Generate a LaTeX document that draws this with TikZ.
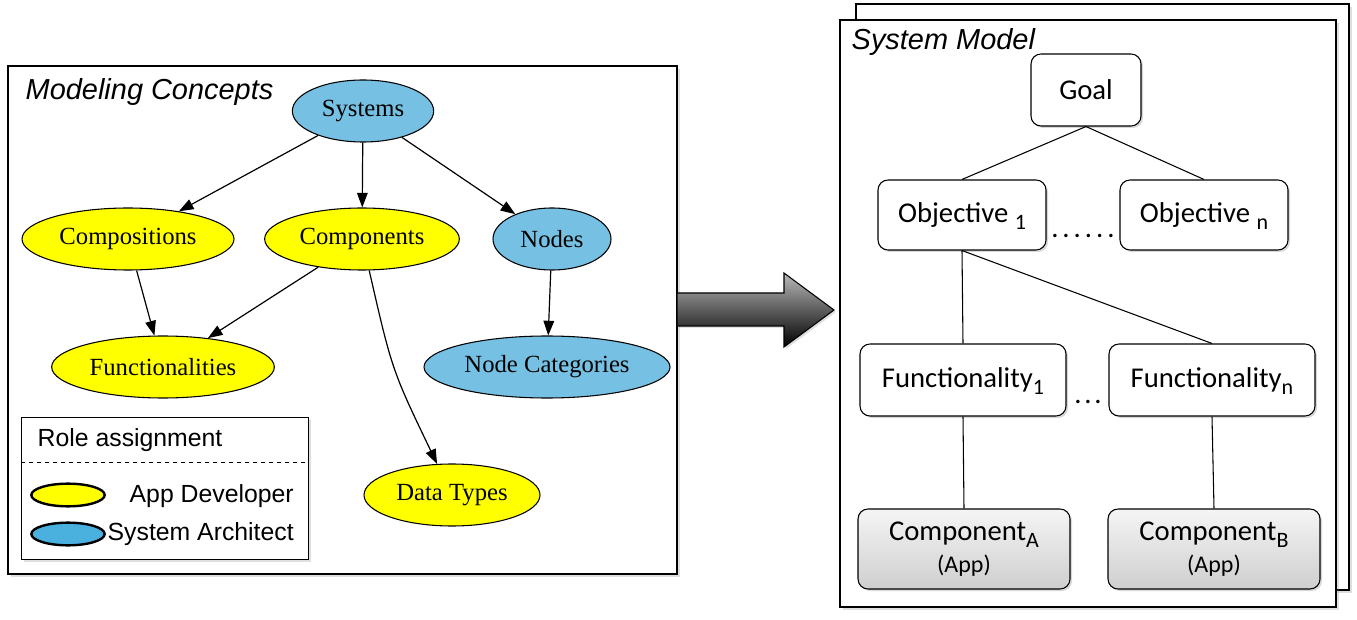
\documentclass[tikz,border=0pt]{standalone}
\usepackage{fontspec}
\setmainfont{Liberation Serif}
\newfontfamily\arialfont{Liberation Sans}
\newfontfamily\calfont{Carlito}
\usetikzlibrary{arrows.meta, shapes.geometric, shadows}
\definecolor{conceptblue}{RGB}{118,193,227}
\definecolor{archblue}{RGB}{74,176,222}
\definecolor{devyellow}{RGB}{255,255,0}
\def\gvsize{\fontsize{18.5}{21}\selectfont}
\def\labsize{\arialfont\fontsize{18.6}{21}\selectfont}
\def\titsize{\arialfont\itshape\fontsize{21.7}{24}\selectfont}
\def\calsize{\calfont\fontsize{21.5}{23}\selectfont}
\def\appsize{\calfont\fontsize{18}{20}\selectfont}
\def\lowsub#1{\smash{\raisebox{-5.5pt}{\fontsize{16.5}{18}\selectfont #1}}}

\begin{document}
\begin{tikzpicture}[x=0.75pt, y=-0.75pt,
	arch/.style={ellipse, draw, thick, fill=conceptblue, inner sep=0pt, minimum height=46.5pt, font=\gvsize},
	dev/.style={ellipse, draw, thick, fill=devyellow, inner sep=0pt, minimum height=46.5pt, font=\gvsize},
	gvedge/.style={line width=0.9pt, -{Triangle[length=11pt, width=8pt]}},
	panel/.style={draw, thick, fill=white, drop shadow={opacity=0.25, shadow xshift=2pt, shadow yshift=-2pt}},
	modelbox/.style={draw, thick, fill=white, rounded corners=7.5pt, inner sep=0pt, font=\calsize,
		drop shadow={opacity=0.3, shadow xshift=1.5pt, shadow yshift=-1.5pt}},
	compbox/.style={modelbox, top color=gray!8, bottom color=gray!38, align=center},
	swatch/.style={ellipse, draw, line width=1.8pt, minimum width=55pt, minimum height=17pt, inner sep=0pt}]

	\useasboundingbox (0,0) rectangle (1357,620);

	% left panel
	\draw[panel] (8,66) rectangle (677,574);
	\node[anchor=west, font=\titsize] (mctitle) at (21,92) {Modeling Concepts};

	\node[arch, minimum width=106pt] (sys) at (363,111) {Systems};
	\node[dev, minimum width=159pt] (compos) at (128,239) {Compositions};
	\node[dev, minimum width=146pt] (compon) at (362,239) {Components};
	\node[arch, minimum width=88.5pt] (nodes) at (552,239) {Nodes};
	\node[dev, minimum width=167pt] (func) at (163,367) {Functionalities};
	\node[arch, minimum width=184.5pt] (nodecat) at (547,367) {Node Categories};
	\node[dev, minimum width=132pt] (dtypes) at (452,495) {Data Types};

	\draw[gvedge] (sys) -- (compos);
	\draw[gvedge] (sys) -- (compon);
	\draw[gvedge] (sys) -- (nodes);
	\draw[gvedge] (compos) -- (func);
	\draw[gvedge] (compon) -- (func);
	\draw[gvedge] (nodes) -- (nodecat);
	\draw[gvedge] (compon) .. controls (392,370) .. (dtypes);

	% legend
	\draw[panel, semithick] (21,417) rectangle (308,559);
	\draw[dashed] (21,462) -- (308,462);
	\node[anchor=west, font=\labsize] (roletit) at (33,440) {Role assignment};
	\node[swatch, fill=devyellow] (devkey) at (68,495) {};
	\node[swatch, fill=archblue] (archkey) at (68,534) {};
	\node[anchor=east, font=\labsize, inner sep=0pt] (devlab) at (294,496) {App Developer};
	\node[anchor=east, font=\labsize, inner sep=0pt] (archlab) at (294,534) {System Architect};

	% transformation arrow
	\shade[top color=gray!55, bottom color=black, draw=black, thick,
		drop shadow={opacity=0.25, shadow xshift=1.5pt, shadow yshift=-1.5pt}]
		(677,293) -- (784,293) -- (784,273) -- (834,310) -- (784,347) -- (784,326) -- (677,326) -- cycle;

	% right panel
	\draw[panel] (856,4) rectangle (1349,590);
	\draw[panel] (840,20) rectangle (1336,607);
	\node[anchor=west, font=\titsize] (smtitle) at (847,42) {System Model};

	\node[modelbox, minimum width=82.5pt, minimum height=54pt] (goal) at (1086,90) {Goal};
	\node[modelbox, minimum width=126pt, minimum height=52.5pt] (obj1) at (962,215) {Objective \lowsub{1}};
	\node[modelbox, minimum width=126pt, minimum height=52.5pt] (objn) at (1204,215) {Objective \lowsub{n}};
	\node[modelbox, minimum width=154.5pt, minimum height=54pt] (fun1) at (963,380) {Functionality\lowsub{1}};
	\node[modelbox, minimum width=154.5pt, minimum height=54pt] (funn) at (1212,380) {Functionality\lowsub{n}};
	\node[compbox, minimum width=159pt, minimum height=60pt] (compa) at (964,549)
		{Component\lowsub{A}\\[1pt]{\appsize (App)}};
	\node[compbox, minimum width=159pt, minimum height=60pt] (compb) at (1214,549)
		{Component\lowsub{B}\\[1pt]{\appsize (App)}};

	\node[anchor=base, font=\calsize\addfontfeature{LetterSpace=14}] (objdots) at (1083,238) {......};
	\node[anchor=base, font=\calsize\addfontfeature{LetterSpace=10}] (fundots) at (1088,403) {...};

	\draw[thick] (goal.south) -- (obj1.north);
	\draw[thick] (goal.south) -- (objn.north);
	\draw[thick] (obj1.south) -- (fun1.north);
	\draw[thick] (obj1.south) -- (funn.north);
	\draw[thick] (fun1.south) -- (compa.north);
	\draw[thick] (funn.south) -- (compb.north);

\end{tikzpicture}
\end{document}
